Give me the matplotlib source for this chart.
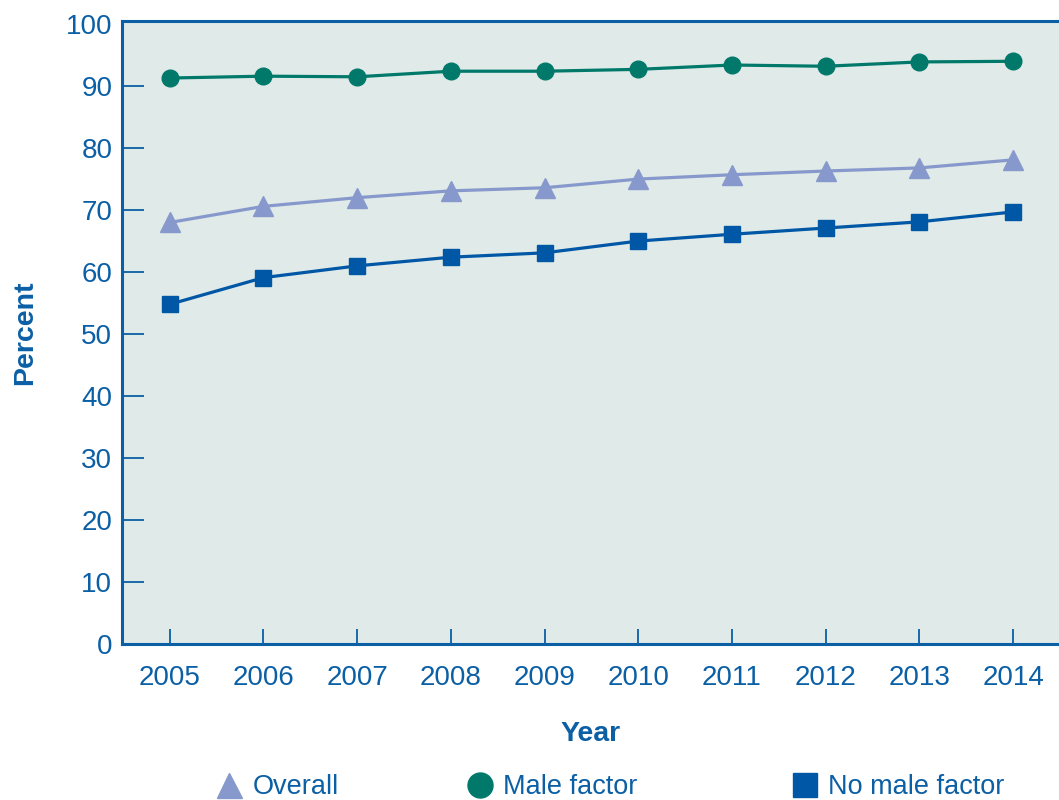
import matplotlib
matplotlib.use("Agg")
import matplotlib.pyplot as plt
from matplotlib.lines import Line2D

years = [2005, 2006, 2007, 2008, 2009, 2010, 2011, 2012, 2013, 2014]
male_factor = [91.3, 91.6, 91.5, 92.4, 92.4, 92.7, 93.4, 93.2, 93.9, 94.0]
overall = [68.0, 70.6, 72.0, 73.1, 73.6, 75.0, 75.7, 76.3, 76.8, 78.1]
no_male_factor = [54.8, 59.1, 61.0, 62.4, 63.1, 65.0, 66.1, 67.1, 68.1, 69.7]
yticks = [0, 10, 20, 30, 40, 50, 60, 70, 80, 90, 100]

AX = "#0B5FA5"
GREEN = "#00796B"
LAV = "#8799CC"
BLUE = "#0057A6"
BG = "#E0EAE8"

plt.rcParams['font.family'] = ['Liberation Sans', 'DejaVu Sans']

fig = plt.figure(figsize=(10.59, 8.0), dpi=100)
ax = fig.add_axes([122/1059, 1 - 644/800, 1 - 122/1059, (644 - 21)/800])
ax.set_facecolor(BG)

ax.plot(years, male_factor, color=GREEN, lw=2.3, marker='o', ms=12, zorder=3)
ax.plot(years, overall, color=LAV, lw=2.3, marker='^', ms=14.5, zorder=3)
ax.plot(years, no_male_factor, color=BLUE, lw=2.3, marker='s', ms=11.5, zorder=3)

ax.set_xlim(2004.49, 2014.49)
ax.set_ylim(0, 100.5)
ax.set_xticks(years)
ax.set_xticklabels([str(y) for y in years])
ax.set_yticks(yticks)

for s in ['left', 'bottom', 'top']:
    ax.spines[s].set_color(AX)
    ax.spines[s].set_linewidth(2.2)
ax.spines['right'].set_visible(False)

ax.tick_params(axis='y', direction='in', length=16, width=1.3, color=AX,
               labelcolor=AX, labelsize=20, pad=7)
ax.tick_params(axis='x', direction='in', length=11, width=1.3, color=AX,
               labelcolor=AX, labelsize=20, pad=15)
ax.yaxis.get_major_ticks()[-1].tick1line.set_visible(False)

ax.set_ylabel("Percent", color=AX, fontsize=20.5, fontweight='bold', labelpad=20)
ax.set_xlabel("Year", color=AX, fontsize=20.5, fontweight='bold', labelpad=22)

entries = [
    ("Overall", dict(marker='^', color=LAV, ms=18), 229),
    ("Male factor", dict(marker='o', color=GREEN, ms=18), 480),
    ("No male factor", dict(marker='s', color=BLUE, ms=17), 805),
]
for label, kw, xpx in entries:
    h = Line2D([], [], linestyle='none', **kw)
    leg = fig.legend([h], [label], loc='center left',
                     bbox_to_anchor=((xpx - 16) / 1059, 1 - 787 / 800),
                     frameon=False, fontsize=19.5, handletextpad=0.25,
                     borderaxespad=0, borderpad=0, handlelength=1.2)
    for t in leg.get_texts():
        t.set_color(AX)

fig.savefig("out.png", dpi=100)
